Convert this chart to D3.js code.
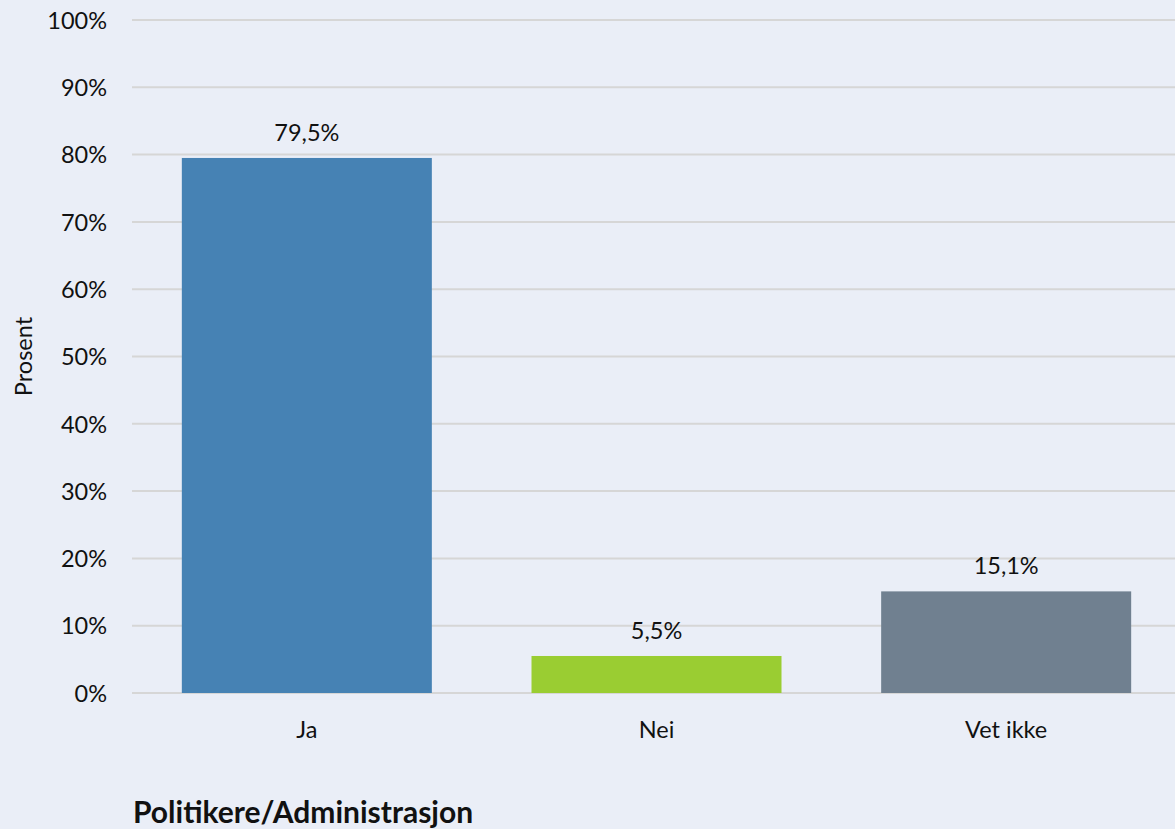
<!DOCTYPE html>
<html><head><meta charset="utf-8">
<script src="https://cdn.jsdelivr.net/npm/d3@7"></script>
<style>
html,body{margin:0;padding:0;background:#eaeef7;}
svg{display:block;font-family:Lato,"Open Sans",sans-serif;}
</style></head><body>
<svg id="c" width="1175" height="829"></svg>
<script>
const categories = ["Ja", "Nei", "Vet ikke"];
const values = [79.5, 5.5, 15.1];
const valueLabels = ["79,5%", "5,5%", "15,1%"];
const colors = ["#4682b4", "#9acd32", "#708090"];
const yTicks = [0,10,20,30,40,50,60,70,80,90,100];
const title = "Politikere/Administrasjon";
const yTitle = "Prosent";

const svg = d3.select("#c");
const W = 1175, H = 829;
const m = {left:132, top:20, bottom:136};
const FS = 23.5;
svg.append("rect").attr("width",W).attr("height",H).attr("fill","#eaeef7");

const x = d3.scaleBand().domain(categories).range([m.left, 1181]).paddingInner(0.285).paddingOuter(0.1425);
const y = d3.scaleLinear().domain([0,100]).range([H-m.bottom, m.top]);

const g = svg.append("g");
g.selectAll("line.grid").data(yTicks).join("line")
  .attr("x1", m.left).attr("x2", W).attr("y1", d=>y(d)).attr("y2", d=>y(d))
  .attr("stroke","#d6d6d6").attr("stroke-width",2);

const yAxis = d3.axisLeft(y).tickValues(yTicks).tickFormat(d=>d+"%").tickSize(0).tickPadding(0);
const ya = svg.append("g").attr("transform",`translate(${107},0)`).call(yAxis);
ya.select(".domain").remove();
ya.selectAll("text").attr("font-size",FS).attr("fill","#111").attr("dy","0.35em").style("font-family","Lato,'Open Sans',sans-serif");

g.selectAll("rect.bar").data(values).join("rect")
  .attr("x",(d,i)=>x(categories[i])).attr("width",x.bandwidth())
  .attr("y",d=>y(d)).attr("height",d=>y(0)-y(d))
  .attr("fill",(d,i)=>colors[i]);

g.selectAll("text.val").data(values).join("text")
  .attr("x",(d,i)=>x(categories[i])+x.bandwidth()/2).attr("y",d=>y(d)-17)
  .attr("text-anchor","middle").attr("font-size",FS).attr("fill","#111")
  .text((d,i)=>valueLabels[i]);

const xAxis = d3.axisBottom(x).tickSize(0).tickPadding(0);
const xa = svg.append("g").attr("transform",`translate(0,${y(0)+37})`).call(xAxis);
xa.select(".domain").remove();
xa.selectAll("text").attr("font-size",FS).attr("fill","#111").attr("dy","0.35em").style("font-family","Lato,'Open Sans',sans-serif");

svg.append("text").attr("transform",`translate(32,${(y(0)+y(100))/2}) rotate(-90)`)
  .attr("text-anchor","middle").attr("font-size",FS).attr("fill","#111").text(yTitle);

svg.append("text").attr("x",133).attr("y",823).attr("font-size",30).attr("font-weight","bold").attr("fill","#111").text(title);
</script>
</body></html>
